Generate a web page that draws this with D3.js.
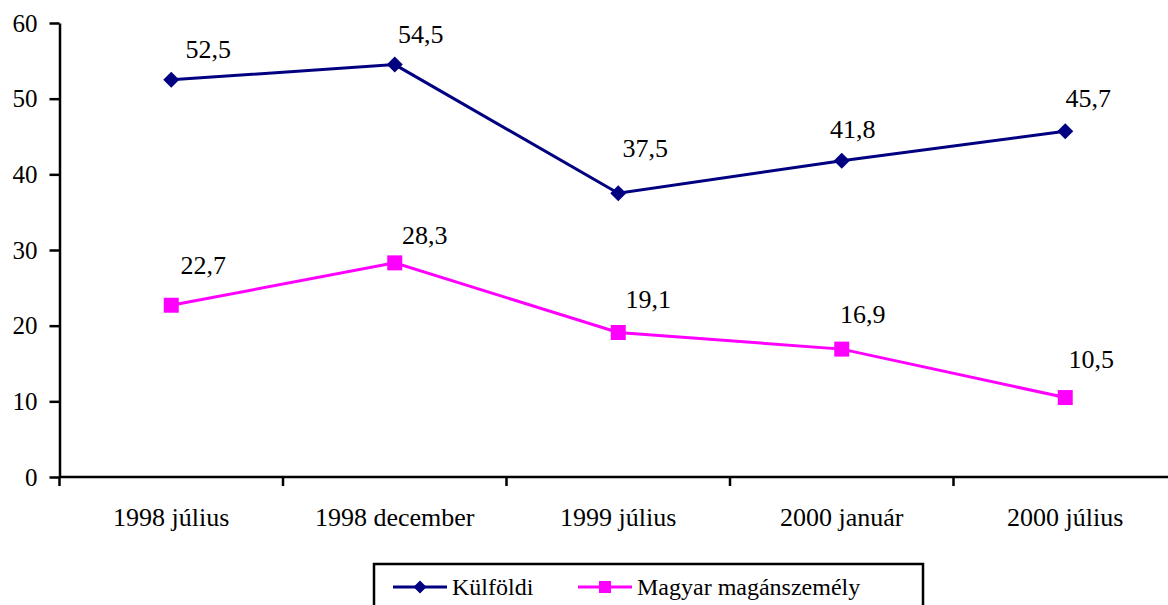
<!DOCTYPE html>
<html>
<head>
<meta charset="utf-8">
<script src="https://cdn.jsdelivr.net/npm/d3@7"></script>
</head>
<body style="margin:0">
<svg id="chart" width="1168" height="605"></svg>
<script>
const categories = ["1998 július", "1998 december", "1999 július", "2000 január", "2000 július"];
const kulfoldi = [52.5, 54.5, 37.5, 41.8, 45.7];
const magyar = [22.7, 28.3, 19.1, 16.9, 10.5];
const yTicks = [0, 10, 20, 30, 40, 50, 60];

// hand-placed data label nudges (dx, dy from the marker)
const kulfoldiNudge = [[37, -22], [26, -22], [27, -36], [11, -23], [23, -24]];
const magyarNudge = [[32, -31], [30, -19], [30, -24], [21, -26], [26, -30]];

const width = 1168;
const blue = "#000080", pink = "#ff00ff";
const font = '"Liberation Serif", monospace';

const svg = d3.select("#chart");

const x = d3.scaleBand().domain(categories).range([59.5, 1177]);
const y = d3.scaleLinear().domain([0, 60]).range([477, 23]);
const cx = (d) => x(d) + x.bandwidth() / 2;

const fmt = (v) => d3.format(".1f")(v).replace(".", ",");

// y axis
const yAxis = svg.append("g")
  .attr("transform", `translate(${x.range()[0]},0)`)
  .call(d3.axisLeft(y).tickValues(yTicks).tickSize(10).tickSizeOuter(0).tickPadding(12));
yAxis.select(".domain").attr("stroke", "#000").attr("stroke-width", 2.5);
yAxis.selectAll(".tick line").attr("stroke", "#000").attr("stroke-width", 2.5);
yAxis.selectAll(".tick text")
  .attr("fill", "#000")
  .attr("font-size", 25)
  .style("font-family", font);

// x axis
const xAxis = svg.append("g").attr("transform", `translate(0,${y(0)})`);
xAxis.append("line")
  .attr("x1", x.range()[0]).attr("x2", width)
  .attr("stroke", "#000").attr("stroke-width", 2.5);
xAxis.selectAll(".xtick")
  .data(categories)
  .enter()
  .append("line")
  .attr("class", "xtick")
  .attr("x1", (d) => x(d)).attr("x2", (d) => x(d))
  .attr("y1", 0).attr("y2", 9)
  .attr("stroke", "#000").attr("stroke-width", 2.5);
xAxis.selectAll(".xlabel")
  .data(categories)
  .enter()
  .append("text")
  .attr("class", "xlabel")
  .attr("x", cx)
  .attr("y", 49)
  .attr("text-anchor", "middle")
  .attr("font-size", 26)
  .style("font-family", font)
  .text((d) => d);

const line = d3.line()
  .x((d, i) => cx(categories[i]))
  .y((d) => y(d));

function drawSeries(values, color, shape, nudge) {
  const g = svg.append("g");
  g.append("path")
    .datum(values)
    .attr("d", line)
    .attr("fill", "none")
    .attr("stroke", color)
    .attr("stroke-width", 3);
  g.selectAll("marker")
    .data(values)
    .enter()
    .append("path")
    .attr("transform", (d, i) => `translate(${cx(categories[i])},${y(d)})`)
    .attr("d", shape)
    .attr("fill", color);
  g.selectAll("label")
    .data(values)
    .enter()
    .append("text")
    .attr("x", (d, i) => cx(categories[i]) + nudge[i][0])
    .attr("y", (d, i) => y(d) + nudge[i][1])
    .attr("text-anchor", "middle")
    .attr("font-size", 26)
    .style("font-family", font)
    .text(fmt);
}

const diamond = (s) => `M0,${-s}L${s},0L0,${s}L${-s},0Z`;
const square = (s) => `M${-s},${-s}H${s}V${s}H${-s}Z`;

drawSeries(kulfoldi, blue, diamond(8), kulfoldiNudge);
drawSeries(magyar, pink, square(7.5), magyarNudge);

// legend
const legend = svg.append("g").attr("transform", "translate(374,564)");
legend.append("rect")
  .attr("width", 549).attr("height", 60)
  .attr("fill", "#fff").attr("stroke", "#000").attr("stroke-width", 2.5);

const legendItems = [
  { name: "Külföldi", color: blue, shape: diamond(6.5), x: 19 },
  { name: "Magyar magánszemély", color: pink, shape: square(6), x: 204 },
];
const li = legend.selectAll(".item")
  .data(legendItems)
  .enter()
  .append("g")
  .attr("transform", (d) => `translate(${d.x},23)`);
li.append("line")
  .attr("x1", 0).attr("x2", 54)
  .attr("stroke", (d) => d.color).attr("stroke-width", 3);
li.append("path")
  .attr("transform", "translate(27,0)")
  .attr("d", (d) => d.shape)
  .attr("fill", (d) => d.color);
li.append("text")
  .attr("x", 59)
  .attr("y", 8)
  .attr("font-size", 24)
  .style("font-family", font)
  .text((d) => d.name);
</script>
</body>
</html>
